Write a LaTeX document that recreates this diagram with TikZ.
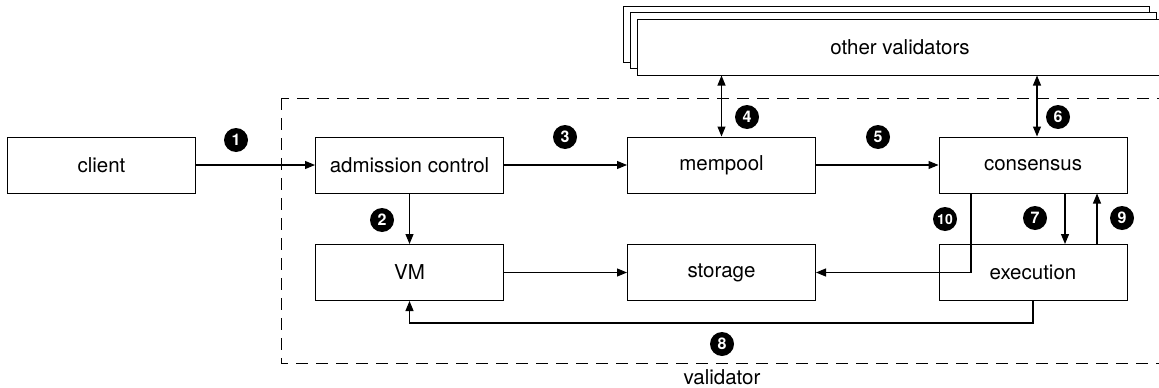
\documentclass[tikz,border=0pt]{standalone}
\usepackage{fontspec}
\setmainfont{TeX Gyre Heros}
\usetikzlibrary{positioning,arrows.meta}
\tikzstyle{boxStyle} = [draw=black, fill=white, line width=1pt, minimum width=188pt, minimum height=56pt, inner sep=0pt, font=\fontsize{20.5}{24}\selectfont]
\tikzstyle{badgeStyle} = [circle, fill=black, text=white, minimum size=24pt, inner sep=0pt, font=\fontsize{16}{16}\selectfont\bfseries]
\tikzstyle{flowLine} = [line width=1.1pt, -{Triangle[length=10pt,width=8pt]}]
\tikzstyle{bothLine} = [line width=1.1pt, {Triangle[length=10pt,width=8pt]}-{Triangle[length=10pt,width=8pt]}]
\tikzstyle{validatorFrame} = [line width=1pt, dash pattern=on 12pt off 8pt]
\newcommand{\badge}[3]{\node [badgeStyle] (#1) at (#2) {#3};}
\begin{document}
\begin{tikzpicture}[x=1pt, y=-1pt]
        \useasboundingbox (0,0) rectangle (1159,388);
        % validator frame
        \draw [validatorFrame] (281,98) rectangle (1180,363);
        \node [font=\fontsize{20.5}{24}\selectfont] (validatorLabel) at (722,377) {validator};

        % other validators, stacked
        \node [boxStyle, minimum width=526pt] (othersBack) at (886,34) {};
        \node [boxStyle, minimum width=526pt] (othersMiddle) at (893,40.5) {};
        \node [boxStyle, minimum width=526pt] (othersFront) at (900,47) {other validators};

        % components
        \node [boxStyle] (clientBox) at (101.5,165) {client};
        \node [boxStyle] (admissionBox) at (409.5,165) {admission control};
        \node [boxStyle] (mempoolBox) at (721.5,165) {mempool};
        \node [boxStyle] (consensusBox) at (1033,165) {consensus};
        \node [boxStyle] (vmBox) at (409.5,272.5) {VM};
        \node [boxStyle] (storageBox) at (721.5,272.5) {storage};
        \node [boxStyle] (executionBox) at (1033,272.5) {execution};

        % flows
        \draw [flowLine] (clientBox) -- (admissionBox);
        \draw [flowLine] (admissionBox) -- (mempoolBox);
        \draw [flowLine] (mempoolBox) -- (consensusBox);
        \draw [flowLine] (admissionBox) -- (vmBox);
        \draw [flowLine] (vmBox) -- (storageBox);
        \draw [bothLine] (mempoolBox.north) -- (mempoolBox.north |- othersFront.south);
        \draw [bothLine] ([xshift=4pt]consensusBox.north) -- ([xshift=4pt]consensusBox.north |- othersFront.south);
        \draw [flowLine] ([xshift=32pt]consensusBox.south) -- ([xshift=32pt]executionBox.north);
        \draw [flowLine] ([xshift=64pt]executionBox.north) -- ([xshift=64pt]consensusBox.south);
        \draw [flowLine] ([xshift=-62pt]consensusBox.south) |- (storageBox.east);
        \draw [flowLine] (executionBox.south) -- ++(0,22) -| (vmBox.south);

        % step numbers
        \badge{stepOne}{236,140}{1}
        \badge{stepTwo}{382,220}{2}
        \badge{stepThree}{565,137}{3}
        \badge{stepFour}{747,117}{4}
        \badge{stepFive}{878,137}{5}
        \badge{stepSix}{1058,117}{6}
        \badge{stepSeven}{1035,218}{7}
        \badge{stepEight}{722,344}{8}
        \badge{stepNine}{1122,218}{9}
        \node [badgeStyle, font=\fontsize{14}{14}\selectfont\bfseries] (stepTen) at (945,219) {10};
\end{tikzpicture}
\end{document}
